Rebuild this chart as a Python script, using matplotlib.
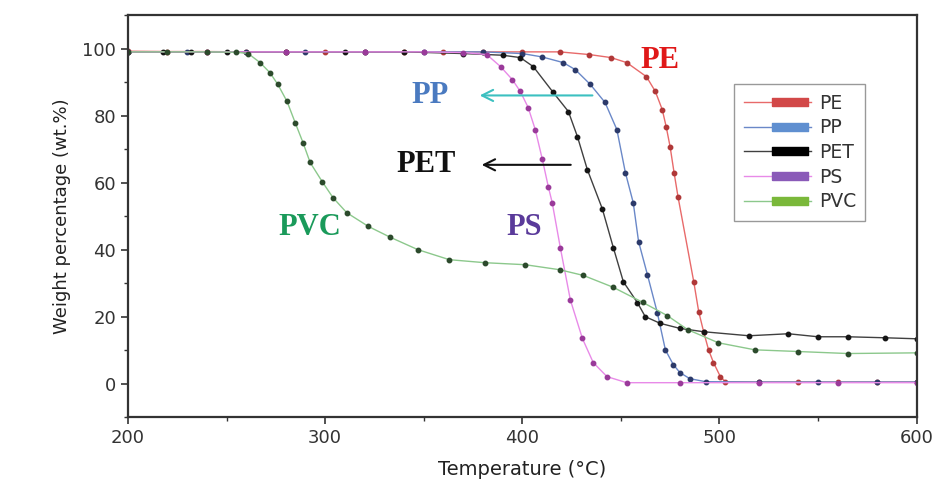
import matplotlib
matplotlib.use("Agg")
import matplotlib.pyplot as plt
from matplotlib.lines import Line2D
from matplotlib.ticker import MultipleLocator

# values
pe_t = [200, 220, 240, 260, 280, 300, 320, 340, 360, 380, 400, 419, 434, 445, 453, 463, 467.5, 471, 473, 475, 477, 479, 487, 489.5, 492, 494.5, 497, 500.5, 503, 520, 540, 560, 580, 600]
pe_w = [99.2, 99.1, 99.1, 99, 99, 99, 99, 99, 99, 99, 99, 99, 98.2, 97.3, 95.8, 91.6, 87.2, 81.8, 76.7, 70.7, 63, 55.8, 30.4, 21.5, 15.5, 10.1, 6.3, 2.1, 0.6, 0.5, 0.5, 0.5, 0.5, 0.5]

pp_t = [200, 230, 260, 290, 320, 350, 380, 400, 410, 420.8, 426.9, 434.5, 442, 448, 452.3, 456.3, 459, 463.5, 468.5, 472.6, 476.6, 480, 485, 493, 520, 550, 580, 600]
pp_w = [99, 99, 99, 99, 99, 99, 99, 98.5, 97.5, 95.8, 93.7, 89.3, 83.9, 75.8, 63, 54, 42.4, 32.5, 21.2, 10.1, 5.7, 3.3, 1.5, 0.6, 0.5, 0.5, 0.5, 0.5]

pet_t = [200, 218, 232, 250, 280, 310, 340, 370, 390, 399, 405.6, 415.7, 423.4, 428, 433, 440.6, 446.2, 451.3, 458.4, 462.4, 470, 480, 492, 515, 535, 550, 565, 584, 600]
pet_w = [99, 99, 99, 99, 99, 99, 99, 98.5, 98, 97.3, 94.6, 86.9, 81.2, 73.7, 63.9, 52.2, 40.6, 30.4, 24.2, 20, 18, 16.5, 15.5, 14.3, 14.9, 14, 14, 13.7, 13.4]

ps_t = [200, 240, 280, 320, 350, 370, 382, 389, 395, 399, 403, 406.6, 410.2, 413.2, 415.2, 419.3, 424.4, 430.5, 436, 443, 453, 480, 520, 560, 600]
ps_w = [99, 99, 99, 99, 99, 98.8, 98.2, 94.6, 90.7, 87.2, 82.4, 75.8, 66.9, 58.8, 54, 40.6, 25, 13.5, 6.3, 2.1, 0.3, 0.3, 0.3, 0.3, 0.3]

pvc_t = [200, 220, 240, 255, 261, 267, 272, 276, 280.7, 284.8, 288.8, 292.4, 298.5, 304, 311, 322, 333, 347, 363, 381, 401.5, 419, 431, 446, 461, 473.6, 484, 499.5, 518, 540, 565, 600]
pvc_w = [99, 99, 99, 98.9, 98.5, 95.8, 92.8, 89.3, 84.2, 77.9, 71.9, 66, 60.3, 55.5, 51, 46.9, 43.7, 40, 37, 36.1, 35.5, 34, 32.3, 28.8, 24.3, 20.3, 16.1, 12.2, 10.1, 9.6, 9, 9.2]

names = ["PE", "PP", "PET", "PS", "PVC"]
line_cols = ["#e86a6a", "#6a88c8", "#404040", "#e88ae8", "#8cc88c"]
dot_cols = ["#b03838", "#2c3a6a", "#151515", "#9a3a9a", "#2c4a2c"]
leg_cols = ["#d24848", "#5f8fd0", "#000000", "#8a5ab8", "#7ab83a"]

fig = plt.figure(figsize=(9.41, 4.84), dpi=100)
ax = fig.add_axes([0.136, 0.138, 0.838, 0.831])

series = [(pe_t, pe_w), (pp_t, pp_w), (pet_t, pet_w), (ps_t, ps_w), (pvc_t, pvc_w)]
for (t, w), lc, dc in zip(series, line_cols, dot_cols):
    ax.plot(t, w, color=lc, lw=1.0, marker="o", ms=3.2, mfc=dc, mec=dc)

ax.set_xlim(200, 600)
ax.set_ylim(-10, 110)
ax.xaxis.set_major_locator(MultipleLocator(100))
ax.xaxis.set_minor_locator(MultipleLocator(50))
ax.yaxis.set_major_locator(MultipleLocator(20))
ax.yaxis.set_minor_locator(MultipleLocator(10))
ax.tick_params(which="major", direction="out", length=5, width=1.2, labelsize=13, colors="#333333")
ax.tick_params(which="minor", direction="out", length=3, width=1.0, colors="#333333")
for s in ax.spines.values():
    s.set_linewidth(1.6)
    s.set_color("#333333")

ax.set_xlabel("Temperature (\u00b0C)", fontsize=14, color="#222222", labelpad=9)
ax.set_ylabel("Weight percentage (wt.%)", fontsize=13, color="#222222", labelpad=8)

# curve labels
lab = dict(fontfamily="Liberation Serif", fontweight="bold", fontsize=22, ha="center", va="center")
ax.text(470, 96.5, "PE", color="#e01818", **lab)
ax.text(353, 86, "PP", color="#4a7ac0", **lab)
ax.text(351, 65.3, "PET", color="#111111", **lab)
ax.text(292, 46.5, "PVC", color="#1a9a5a", **lab)
ax.text(401, 46.5, "PS", color="#5a3a9a", **lab)

ax.annotate("", xy=(377, 86), xytext=(437, 86),
            arrowprops=dict(arrowstyle="->,head_length=0.8,head_width=0.4", color="#3cc0c0", lw=1.5))
ax.annotate("", xy=(378, 65.3), xytext=(426, 65.3),
            arrowprops=dict(arrowstyle="->,head_length=0.8,head_width=0.4", color="#111111", lw=1.5))

bar = [(-0.15, -0.13), (1, -0.13), (1, 0.13), (-0.15, 0.13), (-0.15, -0.13)]
handles = [Line2D([], [], color=lc, lw=1.0, marker=bar, ms=44, mfc=gc, mec=gc)
           for lc, gc in zip(line_cols, leg_cols)]
leg = ax.legend(handles, names, loc="upper right", bbox_to_anchor=(0.947, 0.851),
                fontsize=13.5, numpoints=1, handlelength=3.6, handletextpad=0.4,
                labelspacing=0.3, borderpad=0.5, fancybox=False, framealpha=1,
                edgecolor="#999999")
leg.get_frame().set_linewidth(1.0)
for txt in leg.get_texts():
    txt.set_color("#333333")

fig.savefig("out.png", dpi=100)
